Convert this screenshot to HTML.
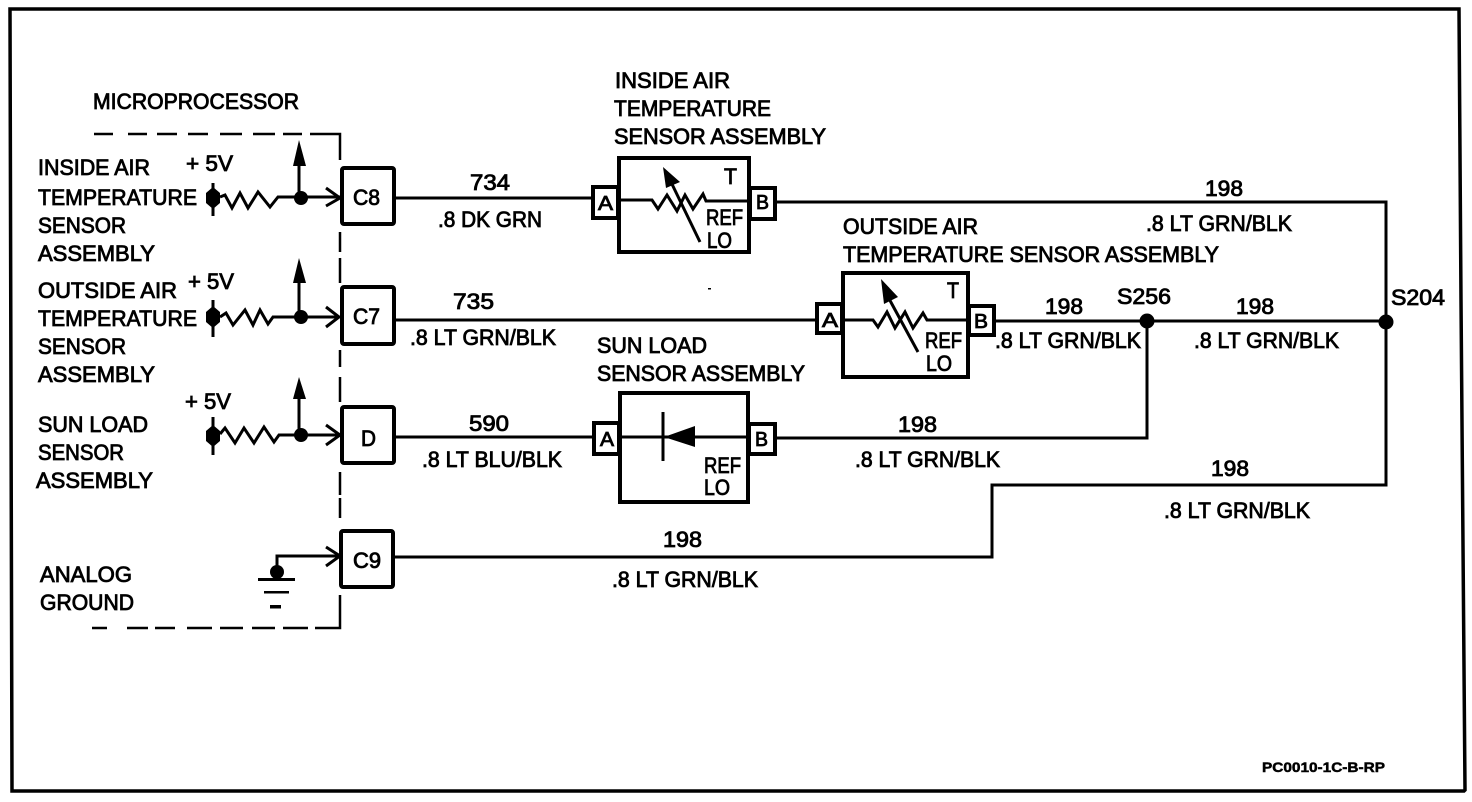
<!DOCTYPE html>
<html>
<head>
<meta charset="utf-8">
<style>
html,body{margin:0;padding:0;background:#fff;}
svg{display:block;}
text{font-family:"Liberation Sans",sans-serif;font-size:22px;fill:#000;stroke:#000;stroke-width:.85px;}
.s{font-size:22px;}
.l{font-size:20px;}
.w{fill:none;stroke:#000;stroke-width:3;}
.t{fill:none;stroke:#000;stroke-width:3;stroke-linejoin:miter;}
.b{fill:#fff;stroke:#000;stroke-width:4;}
.k{fill:#000;stroke:none;}
</style>
</head>
<body>
<svg width="1472" height="802" viewBox="0 0 1472 802" xmlns="http://www.w3.org/2000/svg">
<rect width="1472" height="802" fill="#fff"/>
<!-- frame -->
<path d="M10 9 H1459 L1461 300 L1465 790 L1464 791 H12 Z" fill="none" stroke="#000" stroke-width="3.5"/>

<!-- dashed microprocessor boundary -->
<path d="M94 134 H113 M128 134 H147 M157 134 H177 M188 134 H208 M220 134 H242 M253 134 H275 M283 134 H302 M310 134 H340 V160 M340 232 V252 M340 258 V283 M340 350 V367 M340 377 V402 M340 472 V495 M340 498 V518 M340 595 V628 H315 M308 628 H283 M275 628 H252 M243 628 H220 M212 628 H187 M175 628 H155 M148 628 H127 M107 628 H92" fill="none" stroke="#000" stroke-width="2.5"/>

<!-- wires -->
<path class="w" d="M394 198 H593"/>
<path class="w" d="M775 202 H1386 V485 H992 V557 H393"/>
<path class="w" d="M394 320 H816"/>
<path class="w" d="M994 321 H1386"/>
<path class="w" d="M1147 321 V438 H775"/>
<path class="w" d="M396 437 H593"/>
<circle class="k" cx="1147" cy="321" r="7.5"/>
<circle class="k" cx="1386" cy="322" r="7.5"/>

<!-- left circuit row 1 -->
<path class="t" d="M213 183 V216"/>
<path class="k" d="M213 187 L220 193 V203 L213 209 L206 203 V193 Z"/>
<path class="t" d="M220 197 L225 195 L232 208 L240 193 L248 208 L258 192 L270 207 L278 197 H340"/>
<circle class="k" cx="301" cy="198" r="7"/>
<path class="w" d="M299 198 V160"/>
<path class="k" d="M299 140 L306 166 H293 Z"/>
<path class="t" d="M326 188 L340 198 L326 206"/>

<!-- left circuit row 2 -->
<path class="t" d="M213 300 V337"/>
<path class="k" d="M213 306 L220 312 V322 L213 328 L206 322 V312 Z"/>
<path class="t" d="M220 317 L226 313 L233 325 L245 310 L253 325 L260 310 L268 324 L273 317 H339"/>
<circle class="k" cx="301" cy="317" r="7"/>
<path class="w" d="M299 317 V278"/>
<path class="k" d="M299 258 L306 283 H293 Z"/>
<path class="t" d="M326 307 L339 317 L326 327"/>

<!-- left circuit row 3 -->
<path class="t" d="M213 417 V455"/>
<path class="k" d="M213 425 L220 431 V441 L213 447 L206 441 V431 Z"/>
<path class="t" d="M220 434 L225 428 L235 443 L244 428 L254 443 L264 427 L274 442 L279 435 H340"/>
<circle class="k" cx="301" cy="435" r="7"/>
<path class="w" d="M299 435 V395"/>
<path class="k" d="M299 377 L306 399 H293 Z"/>
<path class="t" d="M326 425 L340 435 L326 445"/>

<!-- ground -->
<path class="t" d="M277 566 V556 H340"/>
<path class="t" d="M326 547 L340 556 L326 566"/>
<circle class="k" cx="277" cy="572" r="7"/>
<rect class="k" x="258" y="578" width="37" height="3"/>
<rect class="k" x="264" y="591" width="25" height="2.5"/>
<rect class="k" x="270" y="605" width="11" height="3.5"/>

<!-- connector boxes -->
<rect class="b" x="342" y="168" width="52" height="56" rx="2"/>
<rect class="b" x="342" y="287" width="52" height="57" rx="2"/>
<rect class="b" x="342" y="407" width="52" height="56" rx="2"/>
<rect class="b" x="341" y="531" width="52" height="56" rx="2"/>

<!-- inside air sensor -->
<rect class="b" x="619" y="158" width="130" height="94"/>
<rect class="b" x="593" y="187" width="25" height="31"/>
<rect class="b" x="750" y="188" width="25" height="31"/>
<path class="t" d="M620 200 H652 L658 209 L667 195 L677 211 L685 195 L693 209 L703 194 L706 201 H747"/>
<path class="t" d="M700 242 L670 180"/>
<path class="k" d="M663 167 L680 182 L666 188 Z"/>

<!-- outside air sensor -->
<rect class="b" x="843" y="273" width="125" height="104"/>
<rect class="b" x="817" y="304" width="25" height="29"/>
<rect class="b" x="969" y="306" width="25" height="29"/>
<path class="t" d="M844 320 H873 L878 327 L887 312 L895 328 L905 312 L913 328 L923 313 L927 320 H967"/>
<path class="t" d="M918 352 L887 295"/>
<path class="k" d="M881 279 L898 297 L884 304 Z"/>

<!-- sun load sensor -->
<rect class="b" x="620" y="393" width="128" height="109"/>
<rect class="b" x="594" y="423" width="25" height="31"/>
<rect class="b" x="749" y="424" width="26" height="30"/>
<path class="t" d="M620 437 H748"/>
<path class="t" d="M663 412 V461"/>
<path class="k" d="M664 437 L695 426 V447 Z"/>

<!-- specks -->
<rect class="k" x="708" y="288" width="3" height="1.5"/>

<!-- text: left -->
<text x="93" y="109" textLength="206" lengthAdjust="spacingAndGlyphs">MICROPROCESSOR</text>
<text x="38" y="175" textLength="112" lengthAdjust="spacingAndGlyphs">INSIDE AIR</text>
<text x="38" y="205" textLength="159" lengthAdjust="spacingAndGlyphs">TEMPERATURE</text>
<text x="38" y="233" textLength="88" lengthAdjust="spacingAndGlyphs">SENSOR</text>
<text x="38" y="261" textLength="117" lengthAdjust="spacingAndGlyphs">ASSEMBLY</text>
<text x="38" y="298" textLength="139" lengthAdjust="spacingAndGlyphs">OUTSIDE AIR</text>
<text x="38" y="326" textLength="159" lengthAdjust="spacingAndGlyphs">TEMPERATURE</text>
<text x="38" y="354" textLength="88" lengthAdjust="spacingAndGlyphs">SENSOR</text>
<text x="38" y="382" textLength="117" lengthAdjust="spacingAndGlyphs">ASSEMBLY</text>
<text x="38" y="432" textLength="110" lengthAdjust="spacingAndGlyphs">SUN LOAD</text>
<text x="38" y="460" textLength="86" lengthAdjust="spacingAndGlyphs">SENSOR</text>
<text x="36" y="488" textLength="117" lengthAdjust="spacingAndGlyphs">ASSEMBLY</text>
<text x="40" y="582" textLength="92" lengthAdjust="spacingAndGlyphs">ANALOG</text>
<text x="40" y="610" textLength="94" lengthAdjust="spacingAndGlyphs">GROUND</text>
<text x="186" y="171" textLength="47" lengthAdjust="spacingAndGlyphs">+ 5V</text>
<text x="188" y="289" textLength="46" lengthAdjust="spacingAndGlyphs">+ 5V</text>
<text x="185" y="409" textLength="46" lengthAdjust="spacingAndGlyphs">+ 5V</text>
<text x="353" y="205" textLength="27" lengthAdjust="spacingAndGlyphs">C8</text>
<text x="353" y="324" textLength="27" lengthAdjust="spacingAndGlyphs">C7</text>
<text x="361" y="446" textLength="15" lengthAdjust="spacingAndGlyphs">D</text>
<text x="353" y="568" textLength="28" lengthAdjust="spacingAndGlyphs">C9</text>

<!-- text: sensors -->
<text x="615" y="88" textLength="115" lengthAdjust="spacingAndGlyphs">INSIDE AIR</text>
<text x="614" y="116" textLength="157" lengthAdjust="spacingAndGlyphs">TEMPERATURE</text>
<text x="614" y="144" textLength="212" lengthAdjust="spacingAndGlyphs">SENSOR ASSEMBLY</text>
<text x="843" y="234" textLength="135" lengthAdjust="spacingAndGlyphs">OUTSIDE AIR</text>
<text x="843" y="262" textLength="376" lengthAdjust="spacingAndGlyphs">TEMPERATURE SENSOR ASSEMBLY</text>
<text x="597" y="353" textLength="110" lengthAdjust="spacingAndGlyphs">SUN LOAD</text>
<text x="597" y="381" textLength="208" lengthAdjust="spacingAndGlyphs">SENSOR ASSEMBLY</text>

<text class="s" x="724" y="184" textLength="13" lengthAdjust="spacingAndGlyphs">T</text>
<text class="s" x="947" y="298" textLength="12" lengthAdjust="spacingAndGlyphs">T</text>
<text class="s" x="706" y="225" textLength="37" lengthAdjust="spacingAndGlyphs">REF</text>
<text class="s" x="707" y="248" textLength="25" lengthAdjust="spacingAndGlyphs">LO</text>
<text class="s" x="925" y="348" textLength="37" lengthAdjust="spacingAndGlyphs">REF</text>
<text class="s" x="926" y="371" textLength="26" lengthAdjust="spacingAndGlyphs">LO</text>
<text class="s" x="704" y="473" textLength="37" lengthAdjust="spacingAndGlyphs">REF</text>
<text class="s" x="704" y="495" textLength="26" lengthAdjust="spacingAndGlyphs">LO</text>
<text class="l" x="598" y="210" textLength="15" lengthAdjust="spacingAndGlyphs">A</text>
<text class="l" x="756" y="209" textLength="13" lengthAdjust="spacingAndGlyphs">B</text>
<text class="l" x="822" y="327" textLength="16" lengthAdjust="spacingAndGlyphs">A</text>
<text class="l" x="974" y="328" textLength="14" lengthAdjust="spacingAndGlyphs">B</text>
<text class="l" x="600" y="446" textLength="14" lengthAdjust="spacingAndGlyphs">A</text>
<text class="l" x="755" y="446" textLength="13" lengthAdjust="spacingAndGlyphs">B</text>

<!-- text: wire labels -->
<text x="470" y="190" textLength="40" lengthAdjust="spacingAndGlyphs">734</text>
<text x="438" y="227" textLength="104" lengthAdjust="spacingAndGlyphs">.8 DK GRN</text>
<text x="453" y="309" textLength="41" lengthAdjust="spacingAndGlyphs">735</text>
<text x="410" y="345" textLength="146" lengthAdjust="spacingAndGlyphs">.8 LT GRN/BLK</text>
<text x="469" y="431" textLength="40" lengthAdjust="spacingAndGlyphs">590</text>
<text x="422" y="467" textLength="140" lengthAdjust="spacingAndGlyphs">.8 LT BLU/BLK</text>
<text x="663" y="547" textLength="39" lengthAdjust="spacingAndGlyphs">198</text>
<text x="612" y="587" textLength="146" lengthAdjust="spacingAndGlyphs">.8 LT GRN/BLK</text>
<text x="1205" y="196" textLength="38" lengthAdjust="spacingAndGlyphs">198</text>
<text x="1146" y="231" textLength="146" lengthAdjust="spacingAndGlyphs">.8 LT GRN/BLK</text>
<text x="1045" y="314" textLength="38" lengthAdjust="spacingAndGlyphs">198</text>
<text x="995" y="348" textLength="146" lengthAdjust="spacingAndGlyphs">.8 LT GRN/BLK</text>
<text x="1117" y="304" textLength="54" lengthAdjust="spacingAndGlyphs">S256</text>
<text x="1236" y="314" textLength="38" lengthAdjust="spacingAndGlyphs">198</text>
<text x="1194" y="348" textLength="145" lengthAdjust="spacingAndGlyphs">.8 LT GRN/BLK</text>
<text x="1391" y="305" textLength="54" lengthAdjust="spacingAndGlyphs">S204</text>
<text x="1211" y="476" textLength="38" lengthAdjust="spacingAndGlyphs">198</text>
<text x="1164" y="518" textLength="146" lengthAdjust="spacingAndGlyphs">.8 LT GRN/BLK</text>
<text x="898" y="432" textLength="39" lengthAdjust="spacingAndGlyphs">198</text>
<text x="855" y="467" textLength="145" lengthAdjust="spacingAndGlyphs">.8 LT GRN/BLK</text>
<text x="1262" y="772" textLength="123" lengthAdjust="spacingAndGlyphs" style="font-size:14px;font-weight:bold;stroke-width:.5px">PC0010-1C-B-RP</text>
</svg>
</body>
</html>
